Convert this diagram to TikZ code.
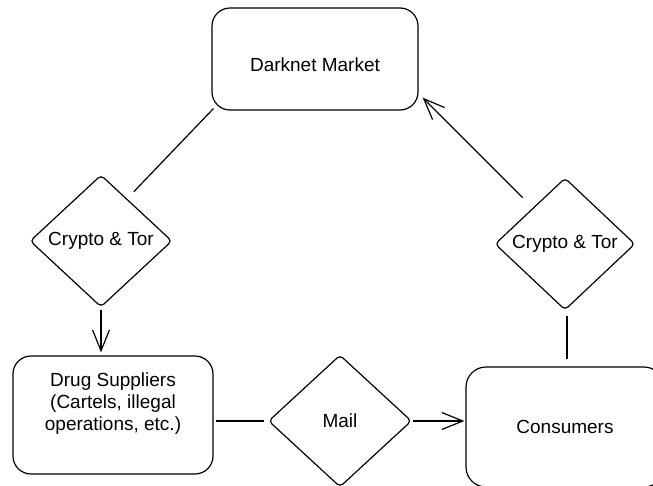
\documentclass[tikz,border=0pt]{standalone}
\usepackage{fontspec}
\setmainfont{Liberation Sans}
\usetikzlibrary{shapes.geometric,arrows.meta,calc}
\tikzset{
  box/.style={draw, rectangle, rounded corners=18pt, line width=1.2pt, inner sep=0pt, align=center},
  choice/.style={draw, diamond, rounded corners=4pt, line width=1.2pt, inner sep=0pt, minimum width=142pt, minimum height=132pt},
  link/.style={line width=1.2pt},
  flow/.style={line width=1.2pt, -{Straight Barb[length=21pt,width=17pt,line width=1.2pt]}},
}
\begin{document}
\begin{tikzpicture}[x=1pt, y=-1pt, font=\fontsize{19}{22}\selectfont]
\useasboundingbox (0,0) rectangle (653,485);
\clip (0,0) rectangle (653,485);
\node[box, minimum width=206pt, minimum height=102pt, text height=25pt] (dm) at (315,59) {Darknet Market};
\node[choice] (cl) at (101,241) {Crypto \& Tor};
\node[choice, minimum width=140pt] (cr) at (565,244) {Crypto \& Tor};
\node[choice, minimum width=143pt] (ml) at (340,421) {Mail};
\node[box, minimum width=200pt, minimum height=118pt, text depth=26pt] (ds) at (113,415) {Drug Suppliers\\(Cartels, illegal\\operations, etc.)};
\node[box, rounded corners=20pt, minimum width=198pt, minimum height=120pt] (co) at (565,427) {Consumers};
\draw[link] ($(dm.south west)+(2,-2)$) -- ($(cl.north east)+(-3,-16)$);
\draw[flow] ($(cl.south)+(0,2)$) -- ($(cl.south |- ds.north)+(0,-3)$);
\draw[flow] ($(cr.north west)+(-7,-13)$) -- ($(dm.south east)+(4,-13)$);
\draw[link] ($(cr.south)+(2,5)$) -- ($(cr.south |- co.north)+(2,-7)$);
\draw[link] ($(ds.east |- ml.west)+(2,0)$) -- ($(ml.west)+(-4,0)$);
\draw[flow] ($(ml.east)+(1,0)$) -- ($(ml.east -| co.west)+(-1,0)$);
\end{tikzpicture}
\end{document}
